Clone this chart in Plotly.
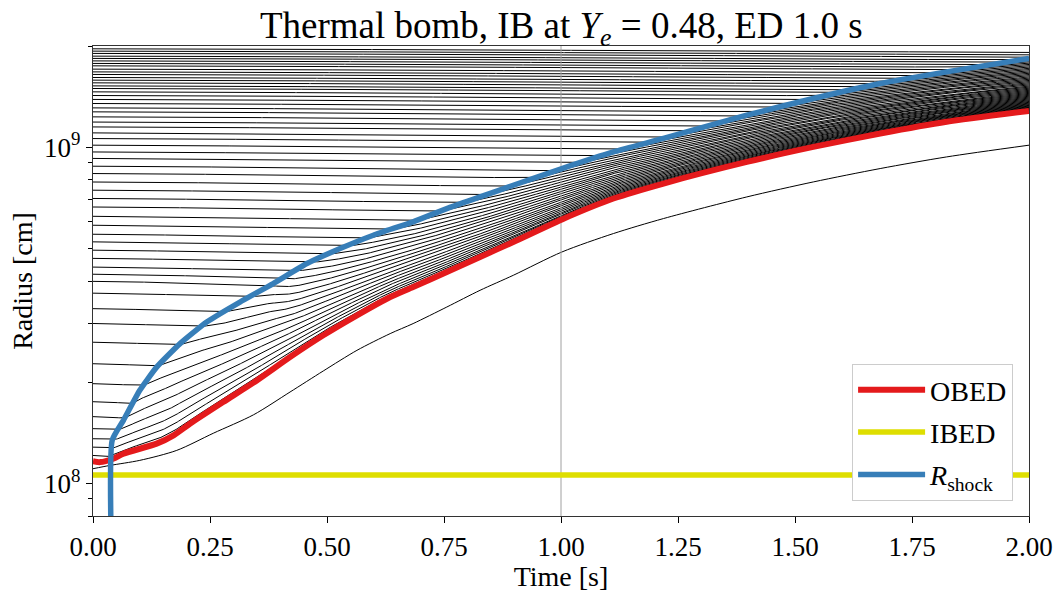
import numpy as np
import plotly.graph_objects as go

# ---------------- data ----------------
# shock radius R_shock(t)
shock_t = [0.041, 0.041, 0.065, 0.100, 0.136, 0.186, 0.243, 0.314, 0.385, 0.457,
           0.528, 0.599, 0.684, 0.756, 0.827, 0.898, 1.002, 1.112, 1.219, 1.397,
           1.539, 1.682, 1.824, 2.000]
shock_r = [5.0e7, 1.343e8, 1.54e8, 1.892e8, 2.218e8, 2.605e8, 3.02e8, 3.464e8, 3.93e8, 4.508e8,
           4.995e8, 5.473e8, 6.0e8, 6.57e8, 7.114e8, 7.706e8, 8.64e8, 9.68e8, 1.062e9, 1.245e9,
           1.396e9, 1.547e9, 1.675e9, 1.837e9]

# outer boundary of energy deposition (OBED)
obed_t = [0.000, 0.015, 0.043, 0.065, 0.136, 0.172, 0.207, 0.278, 0.350, 0.421, 0.492,
          0.564, 0.635, 0.684, 0.756, 0.827, 0.898, 1.002, 1.112, 1.219, 1.397, 1.539,
          1.682, 1.824, 2.000]
obed_r = [1.165e8, 1.157e8, 1.184e8, 1.226e8, 1.313e8, 1.39e8, 1.505e8, 1.746e8, 2.025e8, 2.376e8, 2.758e8,
          3.162e8, 3.585e8, 3.839e8, 4.255e8, 4.715e8, 5.226e8, 6.1e8, 7.036e8, 7.798e8, 9.04e8, 1.002e9,
          1.098e9, 1.19e9, 1.282e9]

# inner boundary of energy deposition (IBED), constant
ibed_t = [0.0, 2.0]
ibed_r = [1.06e8, 1.06e8]

# innermost mass shell (below OBED)
inner_t = [0.000, 0.036, 0.100, 0.179, 0.257, 0.343, 0.421, 0.492, 0.564, 0.635,
           0.684, 0.756, 0.827, 0.898, 1.002, 1.112, 1.219, 1.397, 1.539, 1.682, 1.824, 2.000]
inner_r = [1.106e8, 1.131e8, 1.171e8, 1.254e8, 1.41e8, 1.6e8, 1.87e8, 2.16e8, 2.488e8, 2.79e8,
           2.988e8, 3.347e8, 3.753e8, 4.159e8, 4.88e8, 5.536e8, 6.135e8, 7.114e8, 7.883e8, 8.64e8, 9.357e8, 1.014e9]

# initial radii (t = 0) of the mass shells above OBED
shell_r0 = [1.211e8, 1.282e8, 1.358e8, 1.455e8, 1.58e8, 1.75e8, 1.98e8, 2.27e8, 2.63e8, 2.99e8,
            3.31e8, 3.68e8, 3.99e8, 4.19e8, 4.40e8, 4.67e8, 4.94e8, 5.23e8, 5.51e8, 5.86e8,
            6.23e8, 6.64e8, 7.04e8, 7.45e8, 7.88e8, 8.35e8, 8.78e8, 9.26e8, 9.68e8, 1.014e9,
            1.061e9, 1.103e9, 1.149e9, 1.188e9, 1.231e9, 1.274e9, 1.309e9, 1.349e9, 1.387e9, 1.425e9,
            1.461e9, 1.495e9, 1.522e9, 1.554e9, 1.583e9, 1.612e9, 1.646e9, 1.675e9, 1.707e9, 1.746e9,
            1.775e9, 1.806e9, 1.837e9, 1.866e9, 1.901e9, 1.931e9, 1.962e9]

ed_time = 1.0
y_range = [8e7, 2e9]

# ---------------- shell trajectories ----------------
t = np.linspace(0.0, 2.0, 801)
logr0 = np.log10(np.array(shell_r0))
N = len(logr0)
# slow pre-shock infall, faster for inner shells
rate = (36.0 / 336.0) * (10 ** logr0 / 2e8) ** (-1.4)
logr_pre = logr0[:, None] - rate[:, None] * t[None, :] ** 1.3

t_sh0 = shock_t[1]
log_sh = np.interp(t, shock_t[1:], np.log10(shock_r[1:]))
log_ob = np.interp(t, obed_t, np.log10(obed_r))

logr = logr_pre.copy()
idx = np.arange(N, dtype=float)
for k, tk in enumerate(t):
    if tk < t_sh0:
        continue
    i_sh = np.interp(log_sh[k], logr_pre[:, k], idx, left=-1.0, right=N + 5.0)
    for j in range(N):
        if j < i_sh:
            g = (j + 1.0) / (i_sh + 1.0)
            logr[j, k] = log_ob[k] + g ** 1.4 * (log_sh[k] - log_ob[k])

xs, ys = [], []
for j in range(N):
    xs.extend(t.tolist() + [None])
    ys.extend((10 ** logr[j]).tolist() + [None])

fig = go.Figure()
fig.add_trace(go.Scatter(x=xs, y=ys, mode="lines", line=dict(color="black", width=1),
                         showlegend=False, hoverinfo="skip"))
fig.add_trace(go.Scatter(x=inner_t, y=inner_r, mode="lines",
                         line=dict(color="black", width=1, shape="spline", smoothing=0.8),
                         showlegend=False, hoverinfo="skip"))
fig.add_trace(go.Scatter(x=[ed_time, ed_time], y=y_range, mode="lines",
                         line=dict(color="#a0a0a0", width=1), showlegend=False, hoverinfo="skip"))
fig.add_trace(go.Scatter(x=obed_t, y=obed_r, mode="lines", name="OBED", legendgroup="a",
                         line=dict(color="#e41a1c", width=6, shape="spline", smoothing=0.6)))
fig.add_trace(go.Scatter(x=ibed_t, y=ibed_r, mode="lines", name="IBED", legendgroup="b",
                         line=dict(color="#dede00", width=5.5)))
fig.add_trace(go.Scatter(x=shock_t, y=shock_r, mode="lines", name="<i>R</i><sub>shock</sub>",
                         legendgroup="c",
                         line=dict(color="#377eb8", width=5.5, shape="spline", smoothing=0.5)))

font_family = "Liberation Serif"
minor_vals = [8e7, 9e7] + [m * 1e8 for m in range(2, 10)] + [2e9]

fig.update_layout(
    width=1062, height=592,
    margin=dict(l=93, r=33, t=46, b=76, autoexpand=False),
    paper_bgcolor="white", plot_bgcolor="white",
    font=dict(family=font_family, color="black", size=27),
    title=dict(text="Thermal bomb, IB at <i>Y</i><sub><i>e</i></sub> = 0.48, ED 1.0 s",
               x=0.5285, xanchor="center", y=0.958, yanchor="middle",
               font=dict(size=37, family=font_family)),
    showlegend=True,
    legend=dict(x=0.983, xanchor="right", y=0.032, yanchor="bottom",
                bgcolor="white", bordercolor="#cccccc", borderwidth=1,
                font=dict(size=28, family=font_family), tracegroupgap=3,
                itemwidth=67),
)
fig.update_xaxes(range=[0, 2], tickvals=[0, 0.25, 0.5, 0.75, 1.0, 1.25, 1.5, 1.75, 2.0],
                 ticktext=["0.00", "0.25", "0.50", "0.75", "1.00", "1.25", "1.50", "1.75", "2.00"],
                 ticks="outside", ticklen=6, tickwidth=1, tickcolor="black", automargin=False,
                 showline=True, linecolor="#333333", linewidth=1.2, mirror=True,
                 showgrid=False, zeroline=False,
                 title=dict(text="Time [s]", font=dict(size=28), standoff=4))
fig.update_yaxes(type="log", range=[np.log10(y_range[0]), np.log10(y_range[1])],
                 tickvals=[1e8, 1e9], ticktext=["10<sup>8</sup>", "10<sup>9</sup>"],
                 ticks="outside", ticklen=6, tickwidth=1, tickcolor="black", automargin=False,
                 minor=dict(tickvals=minor_vals, ticks="outside", ticklen=3.5, tickwidth=1,
                            tickcolor="black", showgrid=False),
                 showline=True, linecolor="#333333", linewidth=1.2, mirror=True,
                 showgrid=False, zeroline=False,
                 title=dict(text="Radius [cm]", font=dict(size=28), standoff=3))

fig.write_html("out.html", config={"displayModeBar": False},
               post_script="document.body.style.margin='0';document.body.style.overflow='hidden';")
